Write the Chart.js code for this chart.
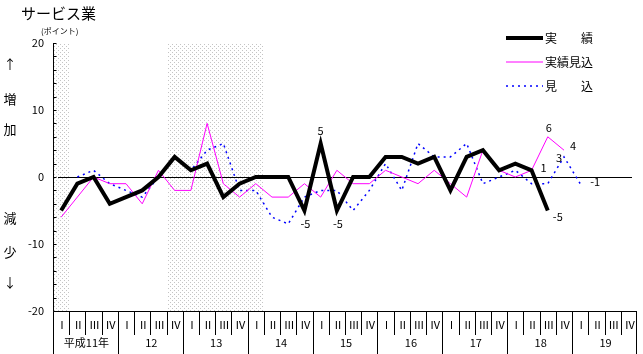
<!DOCTYPE html>
<html lang="ja">
<head>
<meta charset="utf-8">
<script src="https://cdn.jsdelivr.net/npm/chart.js@4.4.1/dist/chart.umd.min.js"></script>
<style>
  html, body { margin: 0; padding: 0; background: #fff; }
  canvas { display: block; }
</style>
</head>
<body>
<canvas id="grafico" width="643" height="354"></canvas>
<script>
// 四半期 (平成11年 I ～ 平成19年 IV)
const anos = ['平成11年', '12', '13', '14', '15', '16', '17', '18', '19']
const trimestres = ['Ⅰ', 'Ⅱ', 'Ⅲ', 'Ⅳ']
const quartos = anos.flatMap(() => trimestres)

// 実績
const jisseki = [-5, -1, 0, -4, -3, -2, 0, 3, 1, 2, -3, -1, 0, 0, 0, -5, 5, -5, 0, 0,
  3, 3, 2, 3, -2, 3, 4, 1, 2, 1, -5]
// 実績見込
const jissekiMikomi = [-6, -3, 0, -1, -1, -4, 1, -2, -2, 8, -1, -3, -1, -3, -3, -1, -3, 1, -1, -1,
  1, 0, -1, 1, -1, -3, 4, 1, 0, 1, 6, 4]
// 見込
const mikomi = [null, 0, 1, -1, -2, -3, 0, 3, 1, 4, 5, -2, -2, -6, -7, -3, -2, -2, -5, -2,
  2, -2, 5, 3, 3, 5, -1, 0, 1, -1, -1, 3, -1]

// 景気後退期 (網掛け、四半期の番号)
const sombras = [[0, 0], [7, 12]]

const yTicks = [20, 10, 0, -10, -20]

const fonte = "'Noto Sans CJK JP', sans-serif"

// 数値を表示する点 (serie: 0 実績, 1 実績見込, 2 見込)
const rotulos = [
  { serie: 0, i: 15, dx: 1, dy: 13 },
  { serie: 0, i: 16, dx: 0, dy: -13 },
  { serie: 0, i: 17, dx: 1, dy: 13 },
  { serie: 0, i: 29, dx: 12, dy: -2 },
  { serie: 0, i: 30, dx: 10, dy: 6 },
  { serie: 1, i: 30, dx: 1, dy: -9 },
  { serie: 1, i: 31, dx: 9, dy: -4 },
  { serie: 2, i: 31, dx: -5, dy: 1 },
  { serie: 2, i: 32, dx: 15, dy: -2 }
]

function padrao(ctx) {
  const c = document.createElement('canvas')
  c.width = 4
  c.height = 4
  const p = c.getContext('2d')
  p.fillStyle = '#ffffff'
  p.fillRect(0, 0, 4, 4)
  p.fillStyle = '#c4c4c4'
  p.fillRect(0, 0, 1, 1)
  p.fillRect(2, 2, 1, 1)
  return ctx.createPattern(c, 'repeat')
}

const desenhos = {
  id: 'desenhos',
  beforeDatasetsDraw(chart) {
    const { ctx, chartArea, scales: { x, y } } = chart
    const passo = x.getPixelForValue(1) - x.getPixelForValue(0)
    ctx.save()
    ctx.fillStyle = padrao(ctx)
    sombras.forEach(([a, b]) => {
      const esq = x.getPixelForValue(a) - passo / 2
      const dir = x.getPixelForValue(b) + passo / 2
      ctx.fillRect(esq + 1, chartArea.top, dir - esq - 1, chartArea.bottom - chartArea.top)
    })
    // ゼロの線
    const y0 = Math.round(y.getPixelForValue(0)) + 0.5
    ctx.strokeStyle = '#000'
    ctx.lineWidth = 1
    ctx.beginPath()
    ctx.moveTo(chartArea.left + 5, y0)
    ctx.lineTo(chartArea.right - 5, y0)
    ctx.stroke()
    ctx.restore()
  },
  afterDatasetsDraw(chart) {
    const { ctx, chartArea, scales: { x, y } } = chart
    const passo = x.getPixelForValue(1) - x.getPixelForValue(0)
    const esq = Math.round(chartArea.left) + 0.5
    const baixo = Math.round(chartArea.bottom) + 0.5
    ctx.save()
    ctx.strokeStyle = '#000'
    ctx.fillStyle = '#000'
    ctx.lineWidth = 1

    // 縦軸
    ctx.beginPath()
    ctx.moveTo(esq, chartArea.top)
    ctx.lineTo(esq, baixo)
    for (let v = -20; v <= 20; v += 2) {
      const py = Math.round(y.getPixelForValue(v)) + 0.5
      ctx.moveTo(esq, py)
      ctx.lineTo(esq + 3, py)
    }
    ctx.stroke()
    ctx.font = '11px ' + fonte
    ctx.textAlign = 'right'
    ctx.textBaseline = 'middle'
    yTicks.forEach(v => ctx.fillText(String(v), 44, y.getPixelForValue(v)))

    // 横軸と区切り
    ctx.beginPath()
    ctx.moveTo(esq, baixo)
    ctx.lineTo(chartArea.right, baixo)
    quartos.forEach((q, i) => {
      const px = Math.round(x.getPixelForValue(i) - passo / 2) + 0.5
      ctx.moveTo(px, baixo)
      ctx.lineTo(px, i % 4 === 0 ? 354 : 335)
    })
    const fim = Math.round(x.getPixelForValue(quartos.length - 1) + passo / 2) - 0.5
    ctx.moveTo(fim, baixo)
    ctx.lineTo(fim, 354)
    ctx.stroke()

    ctx.textAlign = 'center'
    ctx.font = '11px ' + fonte
    quartos.forEach((q, i) => ctx.fillText(q, x.getPixelForValue(i) + 1, 325))
    ctx.font = '11px ' + fonte
    anos.forEach((a, k) => {
      const meio = (x.getPixelForValue(k * 4) + x.getPixelForValue(k * 4 + 3)) / 2
      ctx.fillText(a, meio + 1, 343)
    })

    // 数値ラベル
    ctx.font = '11px ' + fonte
    rotulos.forEach(r => {
      const v = chart.data.datasets[r.serie].data[r.i]
      ctx.fillText(String(v), x.getPixelForValue(r.i) + r.dx, y.getPixelForValue(v) + r.dy)
    })

    // タイトル・単位
    ctx.textAlign = 'left'
    ctx.font = '15px ' + fonte
    ctx.fillText('サービス業', 21, 13)
    ctx.font = '8px ' + fonte
    ctx.fillText('(ポイント)', 41, 31)

    // 増加・減少
    ctx.textAlign = 'center'
    ctx.font = '13px ' + fonte
    ;[['↑', 64], ['増', 99], ['加', 129], ['減', 218], ['少', 252], ['↓', 282]].forEach(([t, py]) => {
      ctx.fillText(t, 10, py)
    })

    // 凡例
    ctx.textAlign = 'left'
    ctx.font = '12px ' + fonte
    chart.data.datasets.forEach((ds, k) => {
      const py = 38 + k * 24
      ctx.save()
      ctx.strokeStyle = ds.borderColor
      ctx.lineWidth = ds.borderWidth
      ctx.setLineDash(ds.borderDash || [])
      ctx.beginPath()
      ctx.moveTo(506, py)
      ctx.lineTo(543, py)
      ctx.stroke()
      ctx.restore()
      ctx.fillText(ds.label, 545, py)
    })
    ctx.restore()
  }
}

const grafico = new Chart(document.querySelector('#grafico'), {
  type: 'line',
  data: {
    labels: quartos,
    datasets: [{
      label: '実　　績',
      data: jisseki,
      borderColor: '#000000',
      borderWidth: 4,
      order: 1
    }, {
      label: '実績見込',
      data: jissekiMikomi,
      borderColor: '#ff00ff',
      borderWidth: 1,
      order: 2
    }, {
      label: '見　　込',
      data: mikomi,
      borderColor: '#0000ff',
      borderWidth: 1.5,
      borderDash: [2, 4],
      order: 3
    }]
  },
  options: {
    responsive: false,
    animation: false,
    devicePixelRatio: 1,
    layout: { padding: { left: 53, right: 6, top: 43, bottom: 43 } },
    elements: { point: { radius: 0 }, line: { tension: 0, borderJoinStyle: 'miter' } },
    plugins: { legend: { display: false }, tooltip: { enabled: false } },
    scales: {
      x: { display: false, offset: true },
      y: { display: false, min: -20, max: 20 }
    }
  },
  plugins: [desenhos]
})
</script>
</body>
</html>
